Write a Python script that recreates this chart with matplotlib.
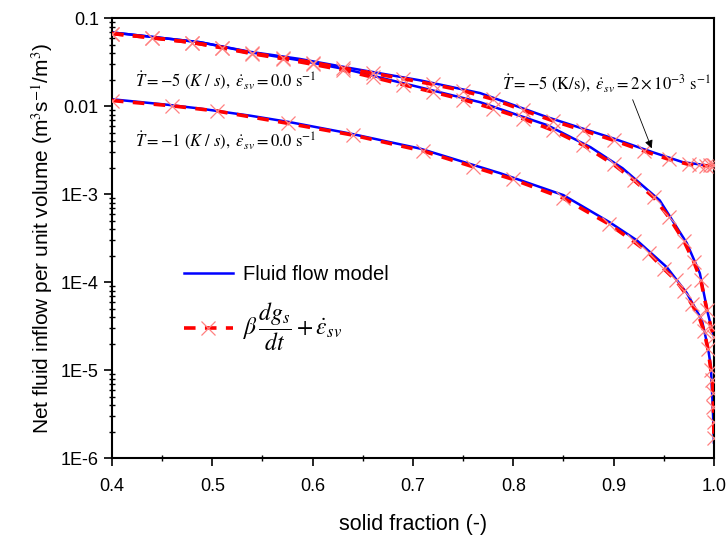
import numpy as np
import matplotlib
matplotlib.use("Agg")
import matplotlib.pyplot as plt
from matplotlib.ticker import FixedLocator, FixedFormatter, LogLocator, MultipleLocator, NullFormatter

plt.rcParams['font.family'] = ['Liberation Sans', 'DejaVu Sans']
plt.rcParams['mathtext.fontset'] = 'stix'

# Fluid flow model (blue)
fs_a = [0.400, 0.488, 0.538, 0.587, 0.637, 0.707, 0.767, 0.834, 0.877, 0.909, 0.946, 0.973, 0.986, 0.994, 0.997, 1.000]
q_a = [0.069, 0.0534, 0.041, 0.0333, 0.0257, 0.0164, 0.0111, 0.00608, 0.00342, 0.00197, 8.5e-4, 2.77e-4, 1.26e-4, 4.4e-5, 3.2e-5, 2.4e-5]

fs_c = [0.400, 0.488, 0.538, 0.587, 0.637, 0.707, 0.767, 0.834, 0.899, 0.939, 0.969, 1.000]
q_c = [0.069, 0.0534, 0.0415, 0.0345, 0.0272, 0.0197, 0.0141, 0.0075, 0.00433, 0.0030, 0.00231, 0.00208]

fs_b = [0.400, 0.455, 0.488, 0.538, 0.577, 0.637, 0.707, 0.787, 0.850, 0.896, 0.923, 0.953, 0.973, 0.988, 0.994, 0.997, 0.999, 1.000]
q_b = [0.0120, 0.0104, 0.0094, 0.0078, 0.0066, 0.0049, 0.0033, 0.00173, 9.75e-4, 4.8e-4, 3.0e-4, 1.48e-4, 7.5e-5, 3.7e-5, 1.82e-5, 1.08e-5, 3.5e-6, 1.5e-6]

# beta dgs/dt + eps_sv (red)
rfs_a = [0.40, 0.44, 0.48, 0.51, 0.54, 0.57, 0.60, 0.63, 0.66, 0.69, 0.72, 0.75, 0.78, 0.81, 0.84, 0.87, 0.90, 0.92, 0.94, 0.955, 0.97, 0.98, 0.987, 0.993, 0.997, 1.0]
rq_a = [0.067, 0.060, 0.053, 0.046, 0.0395, 0.0347, 0.0300, 0.0258, 0.0214, 0.0176, 0.0145, 0.0119, 0.0094, 0.0072, 0.0053, 0.0036, 0.00218, 0.00145, 9.2e-4, 5.5e-4, 2.95e-4, 1.7e-4, 1.05e-4, 4.8e-5, 3.1e-5, 2.4e-5]

rfs_c = [0.40, 0.44, 0.48, 0.51, 0.54, 0.57, 0.60, 0.63, 0.66, 0.69, 0.72, 0.75, 0.78, 0.81, 0.84, 0.87, 0.90, 0.93, 0.955, 0.975, 0.985, 0.992, 0.996, 0.999, 1.0]
rq_c = [0.067, 0.060, 0.053, 0.0465, 0.040, 0.0356, 0.0314, 0.0272, 0.0237, 0.0206, 0.0177, 0.015, 0.0120, 0.0090, 0.0068, 0.0053, 0.0041, 0.0031, 0.00249, 0.00218, 0.00212, 0.00210, 0.00212, 0.00214, 0.00216]

rfs_b = [0.400, 0.460, 0.505, 0.575, 0.640, 0.710, 0.760, 0.800, 0.850, 0.895, 0.920, 0.935, 0.950, 0.962, 0.970, 0.978, 0.985, 0.990, 0.994, 0.997, 0.9985, 0.999, 0.9995, 0.9998, 1.000]
rq_b = [0.0116, 0.0101, 0.0088, 0.0064, 0.0047, 0.0031, 0.00205, 0.00147, 9.0e-4, 4.6e-4, 2.9e-4, 2.15e-4, 1.42e-4, 1.05e-4, 7.9e-5, 5.6e-5, 4.1e-5, 2.8e-5, 1.75e-5, 1.0e-5, 7.7e-6, 5.5e-6, 3.8e-6, 2.6e-6, 1.7e-6]

y_ticks = [1e-6, 1e-5, 1e-4, 1e-3, 1e-2, 1e-1]
y_tick_labels = ['1E-6', '1E-5', '1E-4', '1E-3', '0.01', '0.1']

fig = plt.figure(figsize=(7.27, 5.37), dpi=100)
ax = fig.add_axes([0.154, 0.147, 0.828, 0.819])

blue = dict(color='#0000ff', lw=1.8, zorder=2)
red = dict(color='#ff0000', lw=2.6, ls=(0, (3.2, 2.6)), marker='x', ms=10,
           mec='#ff8080', mew=0.9, zorder=3)

ax.plot(fs_a, q_a, label='Fluid flow model', **blue)
ax.plot(fs_c, q_c, **blue)
ax.plot(fs_b, q_b, **blue)
ax.plot(rfs_a, rq_a, label=r'$\beta\,\dfrac{dg_s}{dt}+\dot{\varepsilon}_{sv}$', **red)
ax.plot(rfs_c, rq_c, **red)
ax.plot(rfs_b, rq_b, **red)

ax.set_yscale('log')
ax.set_xlim(0.4, 1.0)
ax.set_ylim(1e-6, 0.1)

ax.yaxis.set_major_locator(FixedLocator(y_ticks))
ax.yaxis.set_major_formatter(FixedFormatter(y_tick_labels))
ax.yaxis.set_minor_locator(LogLocator(base=10, subs=np.arange(2, 10)))
ax.yaxis.set_minor_formatter(NullFormatter())
ax.xaxis.set_major_locator(MultipleLocator(0.1))
ax.xaxis.set_minor_locator(MultipleLocator(0.05))
ax.xaxis.set_major_formatter(matplotlib.ticker.FormatStrFormatter('%.1f'))

ax.tick_params(which='major', direction='out', length=6, width=1.2, labelsize=13)
ax.tick_params(axis='x', which='major', pad=8)
ax.tick_params(which='minor', direction='inout', length=4, width=1.0)
for s in ax.spines.values():
    s.set_linewidth(1.5)

ax.set_xlabel('solid fraction (-)', fontsize=15.5, labelpad=14)
ax.set_ylabel(r'Net fluid inflow per unit volume (m$^3$s$^{-1}$/m$^3$)', fontsize=15, labelpad=4)

ann_font = dict(fontsize=12, family='Liberation Serif')
ax.text(0.423, 0.0197, r'$\dot{T}=-5\ (K\ /\ s),\ \dot{\varepsilon}_{sv}=0.0\ \mathrm{s}^{-1}$',
        va='center', ha='left', **ann_font)
ax.text(0.423, 0.0041, r'$\dot{T}=-1\ (K\ /\ s),\ \dot{\varepsilon}_{sv}=0.0\ \mathrm{s}^{-1}$',
        va='center', ha='left', **ann_font)
ax.text(0.789, 0.0182, r'$\dot{T}=-5\ \mathrm{(K/s)},\ \dot{\varepsilon}_{sv}=2\times10^{-3}\ \mathrm{s}^{-1}$',
        va='center', ha='left', **ann_font)
ax.annotate('', xy=(0.939, 0.0031), xytext=(0.918, 0.0127),
            arrowprops=dict(arrowstyle='-|>', color='black', lw=0.6, mutation_scale=12))

leg = ax.legend(loc='upper left', bbox_to_anchor=(0.09, 0.48), frameon=False,
                fontsize=14.5, handlelength=2.4, labelspacing=0.8, handletextpad=0.5)
leg.get_texts()[1].set_fontsize(17)

fig.savefig('out.png', dpi=100)
